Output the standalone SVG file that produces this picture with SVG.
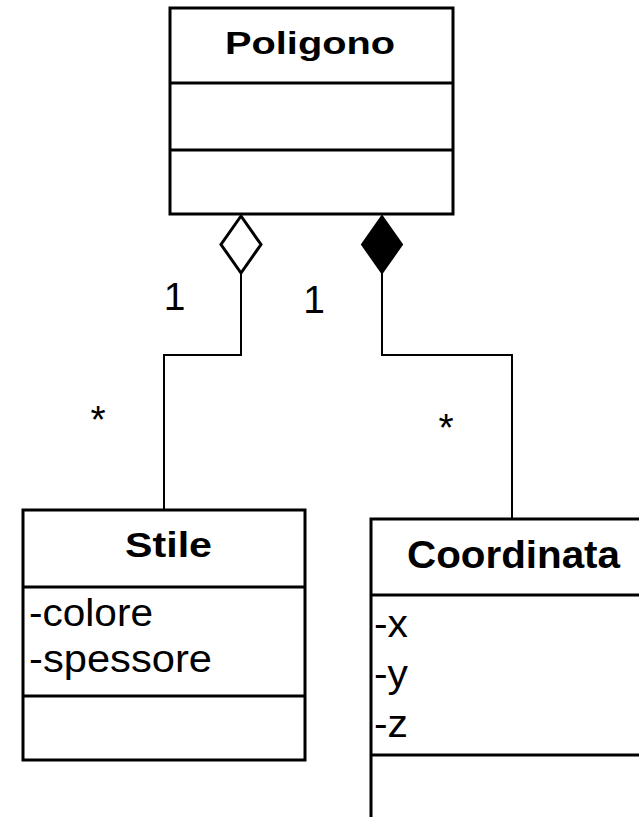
<svg xmlns="http://www.w3.org/2000/svg" width="639" height="817" viewBox="0 0 639 817">
  <style>
    .box { fill: #ffffff; stroke: #000000; stroke-width: 3; }
    .div { stroke: #000000; stroke-width: 3; fill: none; }
    .title { font-family: "Liberation Sans", Arial, sans-serif; font-weight: bold; fill: #000000; text-anchor: middle; }
    .attr { font-family: "Liberation Sans", Arial, sans-serif; font-size: 39px; fill: #000000; }
    .mult { font-family: "Liberation Sans", Arial, sans-serif; font-size: 39px; fill: #000000; text-anchor: middle; }
    .conn { stroke: #000000; stroke-width: 2; fill: none; }
  </style>
  <rect width="639" height="817" fill="#ffffff"/>

  <g id="connectors">
    <!-- aggregation: Poligono to Stile -->
    <polyline class="conn" points="241,273 241,355 164,355 164,510"/>
    <polygon points="241,216 261,244.5 241,273 221,244.5" fill="#ffffff" stroke="#000000" stroke-width="3"/>
    <!-- composition: Poligono to Coordinata -->
    <polyline class="conn" points="382,273 382,355 512,355 512,519"/>
    <polygon points="382,216 402,244.5 382,273 362,244.5" fill="#000000" stroke="#000000" stroke-width="2"/>
    <text class="mult" x="174.5" y="310">1</text>
    <text class="mult" x="314" y="313">1</text>
    <text class="mult" x="98" y="433">*</text>
    <text class="mult" x="446" y="441">*</text>
  </g>

  <g id="poligono">
    <rect class="box" x="170" y="8" width="283" height="206"/>
    <line class="div" x1="170" y1="83" x2="453" y2="83"/>
    <line class="div" x1="170" y1="150" x2="453" y2="150"/>
    <text class="title" x="310" y="54" font-size="32" textLength="170" lengthAdjust="spacingAndGlyphs">Poligono</text>
  </g>

  <g id="stile">
    <rect class="box" x="23" y="510" width="282" height="250"/>
    <line class="div" x1="23" y1="587" x2="305" y2="587"/>
    <line class="div" x1="23" y1="696" x2="305" y2="696"/>
    <text class="title" x="168.5" y="557" font-size="35" textLength="87" lengthAdjust="spacingAndGlyphs">Stile</text>
    <text class="attr" x="29" y="626" textLength="124" lengthAdjust="spacingAndGlyphs">-colore</text>
    <text class="attr" x="29" y="672" textLength="183" lengthAdjust="spacingAndGlyphs">-spessore</text>
  </g>

  <g id="coordinata">
    <rect class="box" x="371" y="519" width="300" height="320"/>
    <line class="div" x1="371" y1="595" x2="671" y2="595"/>
    <line class="div" x1="371" y1="755" x2="671" y2="755"/>
    <text class="title" x="513.5" y="568" font-size="38" textLength="213" lengthAdjust="spacingAndGlyphs">Coordinata</text>
    <text class="attr" x="374" y="637" textLength="34" lengthAdjust="spacingAndGlyphs">-x</text>
    <text class="attr" x="374" y="687" textLength="34" lengthAdjust="spacingAndGlyphs">-y</text>
    <text class="attr" x="374" y="737" textLength="34" lengthAdjust="spacingAndGlyphs">-z</text>
  </g>
</svg>
